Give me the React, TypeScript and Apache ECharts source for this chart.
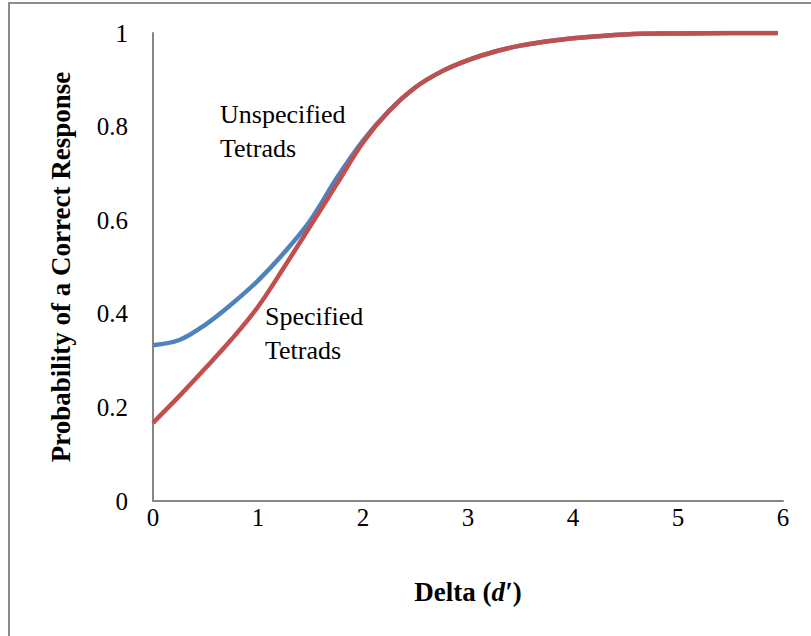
import React, { useEffect, useRef } from "react";
import * as echarts from "echarts";

const deltaValues = [0, 0.25, 0.5, 0.75, 1, 1.25, 1.5, 1.75, 2, 2.25, 2.5, 2.75, 3, 3.25, 3.5, 3.75, 4, 4.5, 5, 5.5, 5.95];
const unspecifiedTetrads = [0.333, 0.344, 0.377, 0.421, 0.471, 0.531, 0.6, 0.69, 0.77, 0.834, 0.884, 0.918, 0.942, 0.96, 0.973, 0.982, 0.989, 0.997, 0.999, 1.0, 1.0];
const specifiedTetrads = [0.167, 0.224, 0.284, 0.346, 0.415, 0.5, 0.588, 0.677, 0.766, 0.834, 0.884, 0.918, 0.942, 0.96, 0.973, 0.982, 0.989, 0.997, 0.999, 1.0, 1.0];
const xTicks = [0, 1, 2, 3, 4, 5, 6];
const yTicks = [0, 0.2, 0.4, 0.6, 0.8, 1];

const FONT = "'Liberation Serif', 'Times New Roman', serif";

export default function App() {
  const ref = useRef<HTMLDivElement>(null);
  useEffect(() => {
    document.body.style.margin = "0";
    const chart = echarts.init(ref.current!, null, { renderer: "svg" });
    const toPairs = (ys: number[]) => deltaValues.map((d, i) => [d, ys[i]]);
    chart.setOption({
      animation: false,
      backgroundColor: "#ffffff",
      grid: { left: 153, top: 33, right: 28, bottom: 135, containLabel: false },
      xAxis: {
        type: "value",
        min: xTicks[0],
        max: xTicks[xTicks.length - 1],
        interval: 1,
        axisLine: { show: true, lineStyle: { color: "#868686", width: 2 } },
        axisTick: { show: false },
        splitLine: { show: false },
        axisLabel: { color: "#000", fontFamily: FONT, fontSize: 25, margin: 4 },
        name: "{b|Delta (}{i|d′}{b|)}",
        nameLocation: "middle",
        nameGap: 77,
        nameTextStyle: {
          rich: {
            b: { fontFamily: FONT, fontSize: 27, fontWeight: "bold", color: "#000" },
            i: { fontFamily: FONT, fontSize: 27, fontWeight: "bold", fontStyle: "italic", color: "#000" },
          },
        },
      },
      yAxis: {
        type: "value",
        min: yTicks[0],
        max: yTicks[yTicks.length - 1],
        interval: 0.2,
        axisLine: { show: true, lineStyle: { color: "#868686", width: 2 } },
        axisTick: { show: false },
        splitLine: { show: false },
        axisLabel: { color: "#000", fontFamily: FONT, fontSize: 25, margin: 25 },
        name: "Probability of a Correct Response",
        nameLocation: "middle",
        nameGap: 79,
        nameTextStyle: { fontFamily: FONT, fontSize: 27, fontWeight: "bold", color: "#000" },
      },
      graphic: [
        {
          type: "rect",
          silent: true,
          shape: { x: 9, y: 3, width: 900, height: 800 },
          style: { fill: "none", stroke: "#8c8c8c", lineWidth: 2 },
        },
        {
          type: "text",
          left: 220,
          top: 97,
          style: { text: "Unspecified\nTetrads", fontFamily: FONT, fontSize: 26, lineHeight: 34, fill: "#000" },
        },
        {
          type: "text",
          left: 265,
          top: 299,
          style: { text: "Specified\nTetrads", fontFamily: FONT, fontSize: 26, lineHeight: 34, fill: "#000" },
        },
      ],
      series: [
        {
          name: "Unspecified Tetrads",
          type: "line",
          data: toPairs(unspecifiedTetrads),
          smooth: 0.35,
          showSymbol: false,
          lineStyle: { color: "#4F81BD", width: 4.5 },
          z: 2,
        },
        {
          name: "Specified Tetrads",
          type: "line",
          data: toPairs(specifiedTetrads),
          smooth: 0.35,
          showSymbol: false,
          lineStyle: { color: "#C0504D", width: 4.5 },
          z: 3,
        },
      ],
    });
    return () => chart.dispose();
  }, []);
  return <div ref={ref} style={{ width: 811, height: 636 }} />;
}
